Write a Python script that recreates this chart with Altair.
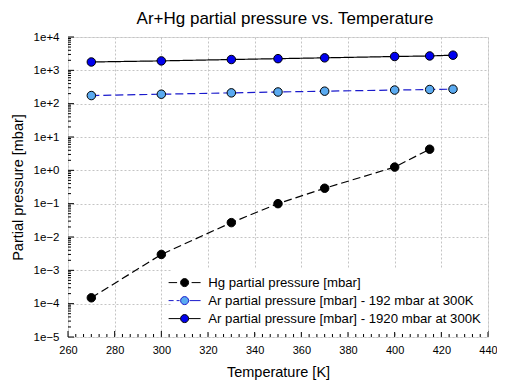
import altair as alt
import pandas as pd

# ---- data ----
series_names = [
    "Hg partial pressure [mbar]",
    "Ar partial pressure [mbar] - 192 mbar at 300K",
    "Ar partial pressure [mbar] - 1920 mbar at 300K",
]
t_hg = [270, 300, 330, 350, 370, 400, 415]
p_hg = [1.5e-4, 3.0e-3, 2.7e-2, 0.10, 0.29, 1.25, 4.3]
t_ar = [270, 300, 330, 350, 370, 400, 415, 425]
p_ar192 = [175, 192, 211, 224, 237, 256, 266, 272]
p_ar1920 = [1780, 1920, 2110, 2240, 2370, 2600, 2700, 2850]

x_major = [260, 280, 300, 320, 340, 360, 380, 400, 420, 440]
x_minor = [260 + 20 * i / 6 for i in range(55) if i % 6 != 0]
y_major = [1e-5, 1e-4, 1e-3, 1e-2, 1e-1, 1e0, 1e1, 1e2, 1e3, 1e4]
y_minor = [m * d for d in y_major[:-1] for m in range(2, 10)]

line_colors = ["#000000", "#1a1acc", "#000000"]
fill_colors = ["#000000", "#5aaaf0", "#0000ee"]
dashes = [[8, 4], [8, 4], [1, 0]]
legend_paths = [
    "M-3.2,0L-1.5,0M1.4,0L3.2,0M0.8,0A0.8,0.8,0,1,1,-0.8,0A0.8,0.8,0,1,1,0.8,0Z",
    "M-3.2,0L-2.2,0M-1.6,0L-1.0,0M1.0,0L3.2,0M0.8,0A0.8,0.8,0,1,1,-0.8,0A0.8,0.8,0,1,1,0.8,0Z",
    "M-3.2,0L-0.8,0M0.8,0L3.2,0M0.8,0A0.8,0.8,0,1,1,-0.8,0A0.8,0.8,0,1,1,0.8,0Z",
]

rows = []
for t, p in zip(t_hg, p_hg):
    rows.append({"series": series_names[0], "T": t, "P": p})
for t, p in zip(t_ar, p_ar192):
    rows.append({"series": series_names[1], "T": t, "P": p})
for t, p in zip(t_ar, p_ar1920):
    rows.append({"series": series_names[2], "T": t, "P": p})
df = pd.DataFrame(rows)

W, H = 420, 300
FONT = "Liberation Sans"
GRID = "#c4c4c4"

xscale = alt.Scale(domain=[260, 440], nice=False, zero=False)
yscale = alt.Scale(type="log", domain=[1e-5, 1e4], nice=False)

x_axis = alt.Axis(
    orient="bottom", values=x_major, format="d", ticks=False, domain=False,
    grid=True, gridDash=[2, 2], gridColor=GRID, gridWidth=1,
    labelFlush=False, labelOverlap=False,
    labelFont=FONT, labelFontSize=11, labelColor="#000000", labelPadding=7,
    title="Temperature [K]", titleFont=FONT, titleFontSize=14.5,
    titleFontWeight="normal", titleColor="#000000", titlePadding=10,
)
y_axis = alt.Axis(
    orient="left", values=y_major, ticks=False, domain=False,
    labelExpr="'1e' + (datum.value >= 1 ? '+' : '') + format(log(datum.value)/LN10, '.0f')",
    grid=True, gridDash=[2, 2], gridColor=GRID, gridWidth=1,
    labelFlush=False, labelOverlap=False,
    labelFont=FONT, labelFontSize=11.5, labelColor="#000000", labelPadding=9,
    title="Partial pressure [mbar]", titleFont=FONT, titleFontSize=14.5,
    titleFontWeight="normal", titleColor="#000000", titlePadding=8,
)
x_enc = alt.X("T:Q", scale=xscale, axis=x_axis)
y_enc = alt.Y("P:Q", scale=yscale, axis=y_axis)

layers = []

# inward axis ticks (positions through the scales)
xt_major = pd.DataFrame({"T": x_major})
xt_minor = pd.DataFrame({"T": x_minor})
yt_major = pd.DataFrame({"P": y_major})
yt_minor = pd.DataFrame({"P": y_minor})
for d, ln in ((xt_major, 6), (xt_minor, 3)):
    layers.append(alt.Chart(d).mark_rule(color="#000000", strokeWidth=1).encode(
        x=x_enc, y=alt.value(H), y2=alt.value(H - ln)))
for d, ln in ((yt_major, 6), (yt_minor, 3)):
    layers.append(alt.Chart(d).mark_rule(color="#000000", strokeWidth=1).encode(
        y=y_enc, x=alt.value(0), x2=alt.value(ln)))

# series lines
for name, col, dash in zip(series_names, line_colors, dashes):
    layers.append(
        alt.Chart(df).transform_filter(alt.datum.series == name)
        .mark_line(stroke=col, strokeDash=dash, strokeWidth=1.2)
        .encode(x=x_enc, y=y_enc, order="T:Q")
    )

leg = alt.Legend(
    orient="none", legendX=103, legendY=232, title=None,
    labelFont=FONT, labelFontSize=13.2, labelColor="#000000", labelOffset=17,
    labelLimit=500, symbolSize=100, symbolStrokeWidth=1, rowPadding=4,
    fillColor="#ffffff", padding=7, symbolOpacity=1,
)
fill_scale = alt.Scale(domain=series_names, range=fill_colors)

# markers
layers.append(
    alt.Chart(df).mark_point(filled=True, size=72, stroke="#000000", strokeWidth=1, opacity=1).encode(
        x=x_enc, y=y_enc, fill=alt.Fill("series:N", scale=fill_scale, legend=leg))
)
# legend driver (draws no marks)
layers.append(
    alt.Chart(df).transform_filter(alt.datum.T < 0).mark_point(filled=True, opacity=1).encode(
        x=x_enc, y=y_enc,
        shape=alt.Shape("series:N", scale=alt.Scale(domain=series_names, range=legend_paths), legend=leg),
        fill=alt.Fill("series:N", scale=fill_scale, legend=leg),
        stroke=alt.Stroke("series:N", scale=alt.Scale(domain=series_names, range=line_colors), legend=leg),
    )
)

chart = alt.layer(*layers).properties(
    width=W, height=H,
    title=alt.TitleParams(
        "Ar+Hg partial pressure vs. Temperature", font=FONT, fontSize=17,
        fontWeight="normal", color="#000000", anchor="middle", dx=7, offset=3,
    ),
    autosize=alt.AutoSizeParams(type="none"),
    padding={"left": 60, "top": 29, "right": 9, "bottom": 45},
).configure_view(stroke="#333333", strokeWidth=1).configure(background="#ffffff")

chart.save("out.html", embed_options={"renderer": "svg", "actions": False})
